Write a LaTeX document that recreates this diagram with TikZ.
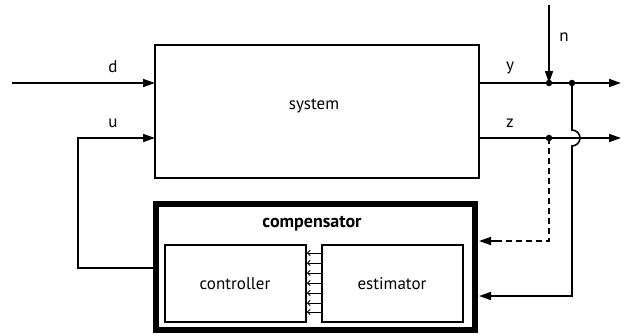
\documentclass[tikz,border=0pt]{standalone}
\usepackage{fontspec}
\setmainfont{PT Sans}
\usetikzlibrary{arrows.meta}
\begin{document}
\begin{tikzpicture}[x=1pt,y=-1pt,
  wire/.style={line width=1.6pt},
  arr/.style={wire,-{Triangle[length=12pt,width=8pt]}},
  lbl/.style={font=\fontsize{17}{19}\selectfont},
  box/.style={draw,line width=1.4pt,fill=white},
  small/.style={line width=1pt,-{To[length=3.5pt,width=6pt]}},
  dot/.style={circle,fill,inner sep=0pt,minimum size=6.5pt}]
\useasboundingbox (0,0) rectangle (629,335);
% system
\draw[box] (155,45) rectangle (479,178);
\node[lbl] (sys) at (314,106) {system};
% compensator
\draw[line width=6.5pt] (156,204) rectangle (475,330);
\node[lbl,font=\bfseries\fontsize{18}{20}\selectfont] (comp) at (312,224) {compensator};
\draw[box] (165,245) rectangle (306,322);
\node[lbl] (ctrl) at (235,284) {controller};
\draw[box] (322,245) rectangle (463,322);
\node[lbl] (est) at (392,284) {estimator};
\foreach \yy in {253,263,273,283,293,303,312}{
  \draw[small] (322,\yy) -- (307,\yy);
}
% inputs
\coordinate (din) at (12,83);
\coordinate (dsys) at (155,83);
\draw[arr] (din) -- (dsys);
\node[lbl] (dl) at (113,67) {d};
\coordinate (usys) at (155,138);
\coordinate (compL) at (153,268);
\draw[arr] (compL) -- (78,268) -- (78,138) -- (usys);
\node[lbl] (ul) at (113,123) {u};
% outputs
\coordinate (ysys) at (479,83);
\coordinate (yend) at (621,83);
\draw[arr] (ysys) -- (yend);
\node[lbl] (yl) at (510,68) {y};
\coordinate (zsys) at (479,138);
\coordinate (zend) at (621,138);
\draw[arr] (zsys) -- (zend);
\node[lbl] (zl) at (510,123) {z};
% noise
\coordinate (ntop) at (549,5);
\node[dot] (ny) at (549,83) {};
\draw[arr] (ntop) -- (ny.center);
\node[lbl] (nl) at (564,37) {n};
% y feedback with jump
\node[dot] (yd) at (572,83) {};
\coordinate (compR2) at (479,296);
\draw[arr] (yd.center) -- (572,130) arc[start angle=-90,end angle=90,radius=8] -- (572,296) -- (compR2);
% z feedback dashed
\node[dot] (zd) at (549,138) {};
\coordinate (compR1) at (479,241);
\draw[wire,dashed,dash pattern=on 6pt off 4pt] (zd.center) -- (549,241) -- (495,241);
\draw[arr] (497,241) -- (compR1);
\end{tikzpicture}
\end{document}
